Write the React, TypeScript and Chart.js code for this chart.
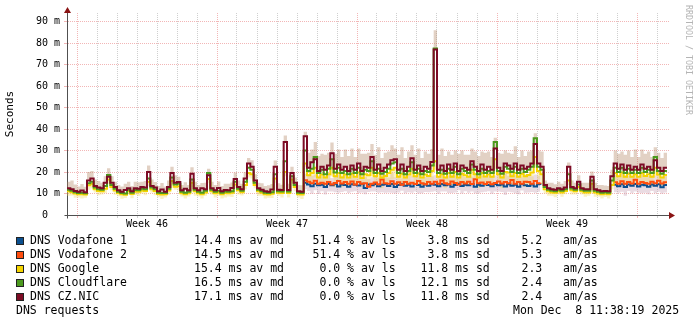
import React, { useEffect, useRef } from 'react';
import { Chart, registerables } from 'chart.js';
Chart.register(...registerables);

// ---------- data ----------
const BINS_PER_DAY = 6; // one value per 4 hours
const X_MAX_DAYS = 30.1;
const Y_MAX = 94;

const seriesNames = ['DNS Vodafone 1', 'DNS Vodafone 2', 'DNS Google', 'DNS Cloudflare', 'DNS CZ.NIC'];
const seriesColors = ['#0b4f8f', '#ff4d0d', '#f5d400', '#4c9a1e', '#7d0b25'];
const avgMedian = ['14.4', '14.5', '15.4', '16.5', '17.1'];
const avgLoss = ['51.4', '51.4', '0.0', '0.0', '0.0'];
const stdDev = ['3.8', '3.8', '11.8', '12.1', '11.8'];
const amAs = ['5.2', '5.3', '2.3', '2.4', '2.4'];
const graphTitle = 'DNS requests';
const timestamp = 'Mon Dec  8 11:38:19 2025';
const watermark = 'RRDTOOL / TOBI OETIKER';

const weekLabels = ['Week 46', 'Week 47', 'Week 48', 'Week 49'];
const weekCenters = [4, 11, 18, 25];
const dayTicks = [0.5, 1.5, 2.5, 3.5, 4.5, 5.5, 6.5, 7.5, 8.5, 9.5, 10.5, 11.5, 12.5, 13.5, 14.5,
  15.5, 16.5, 17.5, 18.5, 19.5, 20.5, 21.5, 22.5, 23.5, 24.5, 25.5, 26.5, 27.5, 28.5, 29.5];
const weekStartTicks = [0.5, 7.5, 14.5, 21.5, 28.5];
const yTickValues = [0, 5, 10, 15, 20, 25, 30, 35, 40, 45, 50, 55, 60, 65, 70, 75, 80, 85, 90];

const n = null;

// CZ.NIC median (ms), one row per day
const czNic = [
  12.5, 12, 11.2, 10.8, 11.4, 10.6,
  16, 17, 13.5, 12.8, 12.5, 15,
  17.8, 15, 13, 11.5, 10.8, 11.6,
  12.5, 11, 12.5, 12.2, 13, 12.8,
  20, 13.5, 12.8, 11, 11.9, 10.8,
  13, 19.5, 15, 15.3, 11.5, 12.2,
  11.5, 19.2, 12.5, 11.5, 12.4, 12,
  18.5, 12.5, 11.5, 12.6, 11, 11.6,
  11.5, 12.6, 16.8, 13, 12, 17,
  24, 22.5, 16, 12.5, 11.8, 11,
  10.8, 11.9, 22.4, 11.8, 11.6, 34,
  11.6, 19.5, 15, 11, 10.8, 36.7,
  22, 24.5, 26, 20.5, 22.5, 21,
  23, 28.7, 21.5, 23.5, 21, 22.5,
  20.5, 23, 21, 24, 20.5, 22.5,
  22, 27, 21, 23.5, 20.5, 22,
  23.5, 25.5, 26, 21, 23.5, 20.5,
  22.5, 26.4, 21, 23, 20.5, 22.5,
  21.5, 24.7, 77, 21, 23, 20.5,
  23.5, 21, 24, 20.5, 23, 22,
  21, 25, 22.5, 20.5, 23.5, 21,
  22.5, 21, 31, 22, 20.5, 24,
  23, 21.5, 24, 21, 23, 21.5,
  22.5, 24, 33, 24, 22.5, 14,
  12.5, 12, 11.8, 12.5, 12, 12.8,
  22.4, 13, 12.5, 15.5, 12.5, 12,
  12, 17.8, 12, 11.5, 11, 11.2,
  11, 18, 24, 21.5, 23.5, 21,
  23, 21, 22.5, 21, 23.5, 21.5,
  22.5, 21, 25.5, 22, 20.5, 22,
];

const cloudflare = [
  11.8, 11.3, 10.6, 10.2, 10.3, 10.1,
  14.8, 15.5, 12.8, 12, 11.8, 13.5,
  18.6, 14, 12.2, 10.8, 10.2, 10,
  11.8, 10.4, 11.6, 11.5, 12.2, 12,
  17, 12.8, 12, 10.4, 10.2, 10.2,
  12.2, 17.5, 14.2, 14.5, 10.8, 10.4,
  10.8, 16.5, 11.8, 10.8, 10.4, 11.3,
  19.5, 11.8, 10.8, 11.3, 10.4, 10.9,
  10.8, 11.1, 15.5, 12.2, 11.3, 15.5,
  22, 21, 15, 11.8, 11.1, 10.4,
  10.2, 10.6, 19, 11.1, 10.9, 25,
  10.9, 18, 14, 10.4, 10.2, 30,
  20.5, 21.5, 27, 19.5, 21, 19,
  21.5, 26, 19.8, 22, 19.5, 20.5,
  19, 21.5, 19.5, 22, 19, 21,
  20.5, 25, 19.5, 21.5, 19.2, 20,
  21.5, 24, 24.5, 19.5, 21.5, 19,
  20.5, 24.5, 19.5, 21.5, 19, 20.5,
  20, 23, 77.5, 19.5, 21, 19.2,
  21.5, 19.5, 22.5, 19, 21.5, 20.5,
  19.5, 23.5, 21, 19, 21.5, 19.6,
  20.5, 19.5, 34, 20.5, 19.2, 22.5,
  21.5, 20, 22.5, 19.5, 21.5, 20,
  21, 22.5, 35.7, 22.5, 21, 13,
  11.8, 11.3, 11.1, 11.8, 11.3, 12,
  19, 12.3, 11.8, 14.2, 11.8, 11.3,
  11.3, 16, 11.3, 10.8, 10.4, 10.6,
  10.4, 16, 22, 20, 22, 19.5,
  21.5, 19.5, 21, 19.5, 22, 20,
  21, 19.5, 27, 20.5, 19.2, 20.5,
];

const google = [
  11, 10.6, 10, 9.6, 9.7, 9.5,
  13.8, 14.5, 12, 11.2, 11, 12.2,
  16.5, 13, 11.4, 10.2, 9.6, 9.4,
  11, 9.8, 10.8, 10.8, 11.4, 11.2,
  15.5, 12, 11.2, 9.8, 9.5, 9.6,
  11.4, 15.8, 13.2, 13.4, 10.1, 9.7,
  10.1, 15, 11, 10.1, 9.7, 10.5,
  16.8, 11, 10.1, 10.5, 9.7, 10.2,
  10.1, 10.4, 14.2, 11.5, 10.6, 14,
  19.5, 19, 14, 11, 10.4, 9.7,
  9.5, 9.9, 17, 10.4, 10.2, 20,
  10.2, 16.5, 13, 9.7, 9.5, 24,
  18.5, 19.5, 22, 17.5, 18.8, 17.5,
  19, 22, 18, 19.5, 17.5, 18.8,
  17.5, 19.2, 17.8, 19.8, 17.2, 19,
  18.5, 22, 18, 19.5, 17.5, 18.2,
  19.5, 21, 22, 17.8, 19.2, 17.5,
  18.8, 21.5, 18, 19.3, 17.5, 18.8,
  18.2, 20.5, 25, 17.8, 19, 17.5,
  19.5, 17.8, 20, 17.5, 19.2, 18.5,
  17.8, 21, 19, 17.5, 19.5, 17.9,
  18.8, 17.8, 26, 19, 17.5, 20,
  19.8, 18, 19.5, 17.8, 19.2, 18,
  18.6, 19.8, 27, 20.5, 19, 12,
  11, 10.5, 10.3, 11, 10.5, 11.2,
  16, 11.5, 11, 13, 11, 10.5,
  10.5, 14.5, 10.5, 10, 9.7, 9.9,
  9.7, 14, 19.5, 18, 19.8, 17.8,
  19.2, 17.8, 19, 17.8, 19.5, 18.2,
  19, 17.8, 22, 18.8, 17.5, 18.6,
];

const vodafone2 = [
  n, n, n, n, n, n, n, n, n, n, n, n, n, n, n, n, n, n,
  n, n, n, n, n, n, n, n, n, n, n, n, n, n, n, n, n, n,
  n, n, n, n, n, n, n, n, n, n, n, n, n, n, n, n, n, n,
  n, n, n, n, n, n, n, n, n, n, n, n,
  n, n, n, n, n, 16.2,
  15.5, 14.8, 15.9, 14.5, 15.0, 14.6,
  15.3, 14.2, 14.9, 15.8, 14.7, 15.4,
  14.6, 15.6, 14.2, 15.3, 14.5, 14.8,
  13.2, 14.6, 15.1, 14.3, 16.5, 14.8,
  14.5, 15.7, 14.6, 15.2, 14.1, 15.3,
  14.6, 15.0, 14.4, 15.8, 14.8, 14.3,
  15.4, 14.5, 15.5, 14.6, 16.0, 14.8,
  14.3, 15.6, 14.9, 14.2, 15.3, 14.7,
  15.5, 14.4, 16.6, 14.8, 15.1, 14.4,
  15.2, 14.3, 14.9, 15.6, 14.7, 15.4,
  14.8, 16.3, 14.5, 15.3, 14.6, 15.5,
  15.3, 14.5, 15.8, 14.8, 15.0, n,
  n, n, n, n, n, n, n, n, n, n, n, n, n, n, n, n, n, n,
  n, n, 15.2, 14.6, 15.7, 14.5,
  15.3, 14.7, 16.4, 14.5, 15.4, 14.9,
  14.6, 15.5, 14.8, 15.9, 14.7, 15.2,
];

const vodafone1 = [
  n, n, n, n, n, n, n, n, n, n, n, n, n, n, n, n, n, n,
  n, n, n, n, n, n, n, n, n, n, n, n, n, n, n, n, n, n,
  n, n, n, n, n, n, n, n, n, n, n, n, n, n, n, n, n, n,
  n, n, n, n, n, n, n, n, n, n, n, n,
  n, n, n, n, n, 15.0,
  14.2, 13.4, 14.5, 13.8, 14.1, 13.0,
  14.4, 13.9, 14.6, 13.3, 14.2, 14.0,
  13.2, 14.3, 14.1, 13.7, 14.5, 12.6,
  14.2, 13.9, 14.4, 13.4, 14.1, 14.3,
  13.5, 14.4, 13.0, 14.0, 14.3, 13.6,
  14.1, 13.3, 14.4, 14.0, 13.1, 14.2,
  13.6, 14.3, 14.1, 13.4, 14.4, 13.9,
  14.2, 13.2, 14.0, 14.5, 13.5, 14.1,
  13.9, 14.4, 13.1, 14.1, 13.6, 14.3,
  14.0, 13.4, 14.4, 13.9, 14.2, 13.3,
  14.3, 13.6, 14.1, 13.2, 14.4, 13.9,
  13.5, 14.2, 13.3, 14.3, 14.0, n,
  n, n, n, n, n, n, n, n, n, n, n, n, n, n, n, n, n, n,
  n, n, 14.1, 13.4, 14.3, 13.0,
  14.2, 13.6, 14.4, 13.3, 14.1, 13.9,
  13.2, 14.2, 13.6, 14.3, 12.9, 14.0,
];

// smoke spread above the CZ.NIC median (ms)
const smokeUp = [
  3, 4, 3, 2.5, 3, 2.5,
  4, 3.5, 3, 3, 2.5, 3,
  4, 3, 2.5, 2.5, 2.5, 3,
  3, 2.5, 3, 3, 2.5, 3,
  3, 3, 2.5, 2.5, 3, 2.5,
  3, 3, 3.5, 2.5, 2.5, 3,
  2.5, 3, 3, 2.5, 2.5, 3,
  3, 3, 2.5, 3, 2.5, 3,
  3, 2.5, 3, 3, 2.5, 3,
  2.5, 3, 3, 2.5, 3, 2.5,
  3, 2.5, 3, 3, 2.5, 3,
  3, 3, 2.5, 3, 3, 2,
  7, 6, 8, 7, 6, 7,
  6, 5, 7, 7, 6, 8,
  7, 8, 6, 7, 8, 6,
  7, 6, 7, 8, 6, 7,
  6, 7, 5, 7, 8, 6,
  7, 6, 7, 8, 6, 7,
  7, 6, 9, 7, 8, 7,
  6, 7, 6, 8, 7, 6,
  7, 6, 7, 7, 6, 8,
  7, 6, 5, 7, 8, 6,
  6, 7, 8, 6, 7, 6,
  7, 6, 5, 6, 7, 2,
  2.5, 3, 2.5, 3, 2.5, 3,
  2, 3, 2.5, 3, 2.5, 3,
  3, 2.5, 3, 2.5, 3, 2.5,
  2.5, 3, 6, 7, 6, 7,
  7, 6, 8, 6, 7, 7,
  7, 6, 6, 7, 6, 7,
];

// smoke spread below the Google median (ms)
const smokeDown = [
  2, 1.5, 2, 1.5, 2, 1.5,
  2, 2, 1.5, 2, 1.5, 2,
  2, 1.5, 2, 1.5, 2, 1.5,
  1.5, 2, 1.5, 2, 1.5, 2,
  2, 1.5, 2, 1.5, 2, 1.5,
  2, 2, 1.5, 2, 1.5, 2,
  1.5, 2, 2, 1.5, 2, 1.5,
  2, 1.5, 2, 1.5, 2, 2,
  1.5, 2, 1.5, 2, 1.5, 2,
  2, 2, 1.5, 2, 1.5, 2,
  1.5, 2, 2, 1.5, 2, 2,
  2, 1.5, 2, 1.5, 2, 1.5,
  4, 5, 4.5, 4, 5, 4,
  4.5, 4, 5, 4, 4.5, 5,
  4, 4.5, 4, 5, 4, 4.5,
  5, 4, 4.5, 4, 5, 4,
  4, 4.5, 5, 4, 4.5, 4,
  4.5, 4, 4, 5, 4, 4.5,
  4, 5, 4, 4.5, 4, 5,
  4.5, 4, 5, 4, 4.5, 4,
  4, 4.5, 4, 5, 4, 4.5,
  5, 4, 4.5, 4, 5, 4,
  4, 4.5, 4, 4.5, 4, 5,
  4.5, 4, 5, 4, 4.5, 2,
  2, 1.5, 2, 1.5, 2, 1.5,
  2, 2, 1.5, 2, 1.5, 2,
  1.5, 2, 2, 1.5, 2, 1.5,
  2, 2, 4.5, 4, 5, 4,
  4.5, 4, 5, 4, 4.5, 4,
  4, 4.5, 4, 5, 4, 4.5,
];

// smoke spread around the Vodafone medians (ms)
const vfSpread = [
  n, n, n, n, n, n, n, n, n, n, n, n, n, n, n, n, n, n,
  n, n, n, n, n, n, n, n, n, n, n, n, n, n, n, n, n, n,
  n, n, n, n, n, n, n, n, n, n, n, n, n, n, n, n, n, n,
  n, n, n, n, n, n, n, n, n, n, n, n,
  n, n, n, n, n, 3,
  3, 3.5, 3, 4, 3, 3.5,
  3.5, 3, 4, 3, 3.5, 3,
  3, 3.5, 3, 3.5, 4, 3,
  3.5, 3, 3.5, 3, 3.5, 4,
  3, 4, 3, 3.5, 3, 3.5,
  3.5, 3, 3.5, 4, 3, 3.5,
  3, 3.5, 3, 3.5, 3.5, 3,
  4, 3, 3.5, 3, 3.5, 3,
  3.5, 3.5, 3, 4, 3, 3.5,
  3, 3.5, 3.5, 3, 3.5, 4,
  3.5, 3, 4, 3.5, 3, 3.5,
  3, 3.5, 3, 3.5, 3.5, n,
  n, n, n, n, n, n, n, n, n, n, n, n, n, n, n, n, n, n,
  n, n, 3.5, 3, 3.5, 4,
  3, 3.5, 3.5, 3, 4, 3.5,
  3.5, 3, 3.5, 3.5, 3, 3.5,
];

// ---------- styles ----------
const MONO = '"DejaVu Sans Mono", monospace';
const AXIS_COLOR = '#505050';
const ARROW_COLOR = '#8a1414';
const GRID_MINOR = 'rgba(160,160,160,0.5)';
const GRID_MAJOR = 'rgba(230,110,110,0.5)';

type V = number | null;
const toPoints = (vals: V[]) => {
  const pts = vals.map((v, i) => ({ x: i / BINS_PER_DAY, y: v }));
  pts.push({ x: vals.length / BINS_PER_DAY, y: vals[vals.length - 1] });
  return pts;
};
const offset = (a: V[], b: V[], sign: number): V[] =>
  a.map((v, i) => (v == null || b[i] == null ? null : v + sign * (b[i] as number)));

const overlayPlugin = {
  id: 'rrdOverlay',
  afterDraw(chart: any) {
    const ctx = chart.ctx as CanvasRenderingContext2D;
    const { left, right, top, bottom } = chart.chartArea;
    const ax = Math.round(left) + 0.5;
    const ay = Math.round(bottom) + 0.5;
    ctx.save();
    // axis extensions
    ctx.strokeStyle = AXIS_COLOR;
    ctx.lineWidth = 1;
    ctx.beginPath();
    ctx.moveTo(ax, ay);
    ctx.lineTo(ax, ay + 3);
    ctx.moveTo(ax - 3, ay);
    ctx.lineTo(ax, ay);
    ctx.stroke();
    // arrows
    ctx.fillStyle = ARROW_COLOR;
    ctx.beginPath();
    ctx.moveTo(ax - 3.5, top);
    ctx.lineTo(ax + 3.5, top);
    ctx.lineTo(ax, top - 6);
    ctx.closePath();
    ctx.fill();
    ctx.beginPath();
    ctx.moveTo(right, ay - 3.5);
    ctx.lineTo(right, ay + 3.5);
    ctx.lineTo(right + 6, ay);
    ctx.closePath();
    ctx.fill();

    // watermark
    ctx.save();
    ctx.font = `8.3px ${MONO}`;
    ctx.fillStyle = '#b4b4b4';
    ctx.textBaseline = 'middle';
    ctx.textAlign = 'left';
    ctx.translate(688, 5);
    ctx.rotate(Math.PI / 2);
    ctx.fillText(watermark, 0, 0);
    ctx.restore();

    // legend
    ctx.font = `11.5px ${MONO}`;
    ctx.textBaseline = 'middle';
    ctx.textAlign = 'left';
    seriesNames.forEach((name, k) => {
      const y = 241 + 14 * k;
      ctx.fillStyle = seriesColors[k];
      ctx.fillRect(16, y - 4, 8, 8);
      ctx.strokeStyle = '#222';
      ctx.lineWidth = 1;
      ctx.strokeRect(16.5, y - 3.5, 7, 7);
      ctx.fillStyle = '#000';
      ctx.fillText(name, 30, y);
      ctx.fillText(`${avgMedian[k]} ms av md`, 194, y);
      ctx.fillText(`${avgLoss[k].padStart(4, ' ')} % av ls`, 312.5, y);
      ctx.fillText(`${stdDev[k].padStart(4, ' ')} ms sd`, 420.5, y);
      ctx.fillText(`${amAs[k]}   am/as`, 521.5, y);
    });
    ctx.fillStyle = '#000';
    ctx.fillText(graphTitle, 16, 311);
    ctx.fillText(timestamp, 513, 311);
    ctx.restore();
  },
};

export default function App() {
  const ref = useRef<HTMLCanvasElement>(null);
  useEffect(() => {
    if (!ref.current) return;
    const lineBase = { pointRadius: 0, borderWidth: 2, stepped: 'before' as const, fill: false, spanGaps: false };
    const bandBase = { pointRadius: 0, borderWidth: 0, borderColor: 'rgba(0,0,0,0)', stepped: 'before' as const, spanGaps: false };
    const chart = new Chart(ref.current, {
      type: 'line',
      data: {
        datasets: [
          { ...lineBase, label: seriesNames[4], data: toPoints(czNic), borderColor: seriesColors[4], order: 0 },
          { ...lineBase, label: seriesNames[3], data: toPoints(cloudflare), borderColor: seriesColors[3], order: 1 },
          { ...lineBase, label: seriesNames[2], data: toPoints(google), borderColor: seriesColors[2], order: 2 },
          { ...lineBase, label: seriesNames[1], data: toPoints(vodafone2), borderColor: seriesColors[1], order: 3 },
          { ...lineBase, label: seriesNames[0], data: toPoints(vodafone1), borderColor: seriesColors[0], order: 4 },
          { ...bandBase, label: 'smoke up', data: toPoints(offset(czNic, smokeUp, 1)), fill: { target: 0 }, backgroundColor: 'rgba(180,135,100,0.38)', order: 5 },
          { ...bandBase, label: 'smoke down', data: toPoints(offset(google, smokeDown, -1)), fill: { target: 2 }, backgroundColor: 'rgba(240,215,90,0.35)', order: 6 },
          { ...bandBase, label: 'vf hi', data: toPoints(offset(vodafone2, vfSpread, 1)), fill: { target: 8 }, backgroundColor: 'rgba(200,160,180,0.38)', order: 7 },
          { ...bandBase, label: 'vf lo', data: toPoints(offset(vodafone1, vfSpread, -1)), fill: false, order: 8 },
        ],
      },
      options: {
        animation: false,
        responsive: false,
        devicePixelRatio: 1,
        events: [],
        layout: { padding: { top: 13, right: 28, bottom: 90, left: 0 } },
        plugins: { legend: { display: false }, tooltip: { enabled: false } },
        scales: {
          x: {
            type: 'linear',
            min: 0,
            max: X_MAX_DAYS,
            afterFit: (s: any) => { s.height = 20; },
            afterBuildTicks: (s: any) => {
              s.ticks = [...dayTicks, ...weekCenters].sort((a, b) => a - b).map((v) => ({ value: v }));
            },
            grid: {
              color: (c: any) => {
                const v = c.tick?.value;
                if (weekCenters.includes(v)) return 'rgba(0,0,0,0)';
                return weekStartTicks.includes(v) ? GRID_MAJOR : GRID_MINOR;
              },
              lineWidth: 1,
              tickLength: 3,
              drawTicks: true,
            },
            border: { display: true, color: AXIS_COLOR, width: 1, dash: [1, 1] },
            ticks: {
              autoSkip: false,
              maxRotation: 0,
              padding: 0,
              color: '#000',
              font: { family: MONO, size: 10 },
              callback: (v: any) => {
                const i = weekCenters.indexOf(v);
                return i >= 0 ? weekLabels[i] : '';
              },
            },
          },
          y: {
            type: 'linear',
            min: 0,
            max: Y_MAX,
            afterFit: (s: any) => { s.width = 67; },
            afterBuildTicks: (s: any) => { s.ticks = yTickValues.map((v) => ({ value: v })); },
            grid: {
              color: (c: any) => {
                const v = c.tick?.value;
                if (v === 0) return 'rgba(0,0,0,0)';
                return v % 10 === 0 ? GRID_MAJOR : GRID_MINOR;
              },
              lineWidth: 1,
              tickLength: 3,
              drawTicks: true,
            },
            border: { display: true, color: AXIS_COLOR, width: 1, dash: [1, 1] },
            ticks: {
              padding: 4,
              color: '#000',
              font: { family: MONO, size: 10 },
              callback: (v: any) => (v % 10 === 0 ? (v === 0 ? '0  ' : `${v} m`) : ''),
            },
            title: {
              display: true,
              text: 'Seconds',
              color: '#000',
              font: { family: MONO, size: 11 },
              padding: { top: 4, bottom: 0 },
            },
          },
        },
      },
      plugins: [overlayPlugin],
    } as any);
    return () => chart.destroy();
  }, []);
  return (
    <div style={{ position: 'absolute', left: 0, top: 0, width: 697, height: 325, background: '#fff' }}>
      <canvas ref={ref} width={697} height={325} style={{ display: 'block', width: 697, height: 325 }} />
    </div>
  );
}
